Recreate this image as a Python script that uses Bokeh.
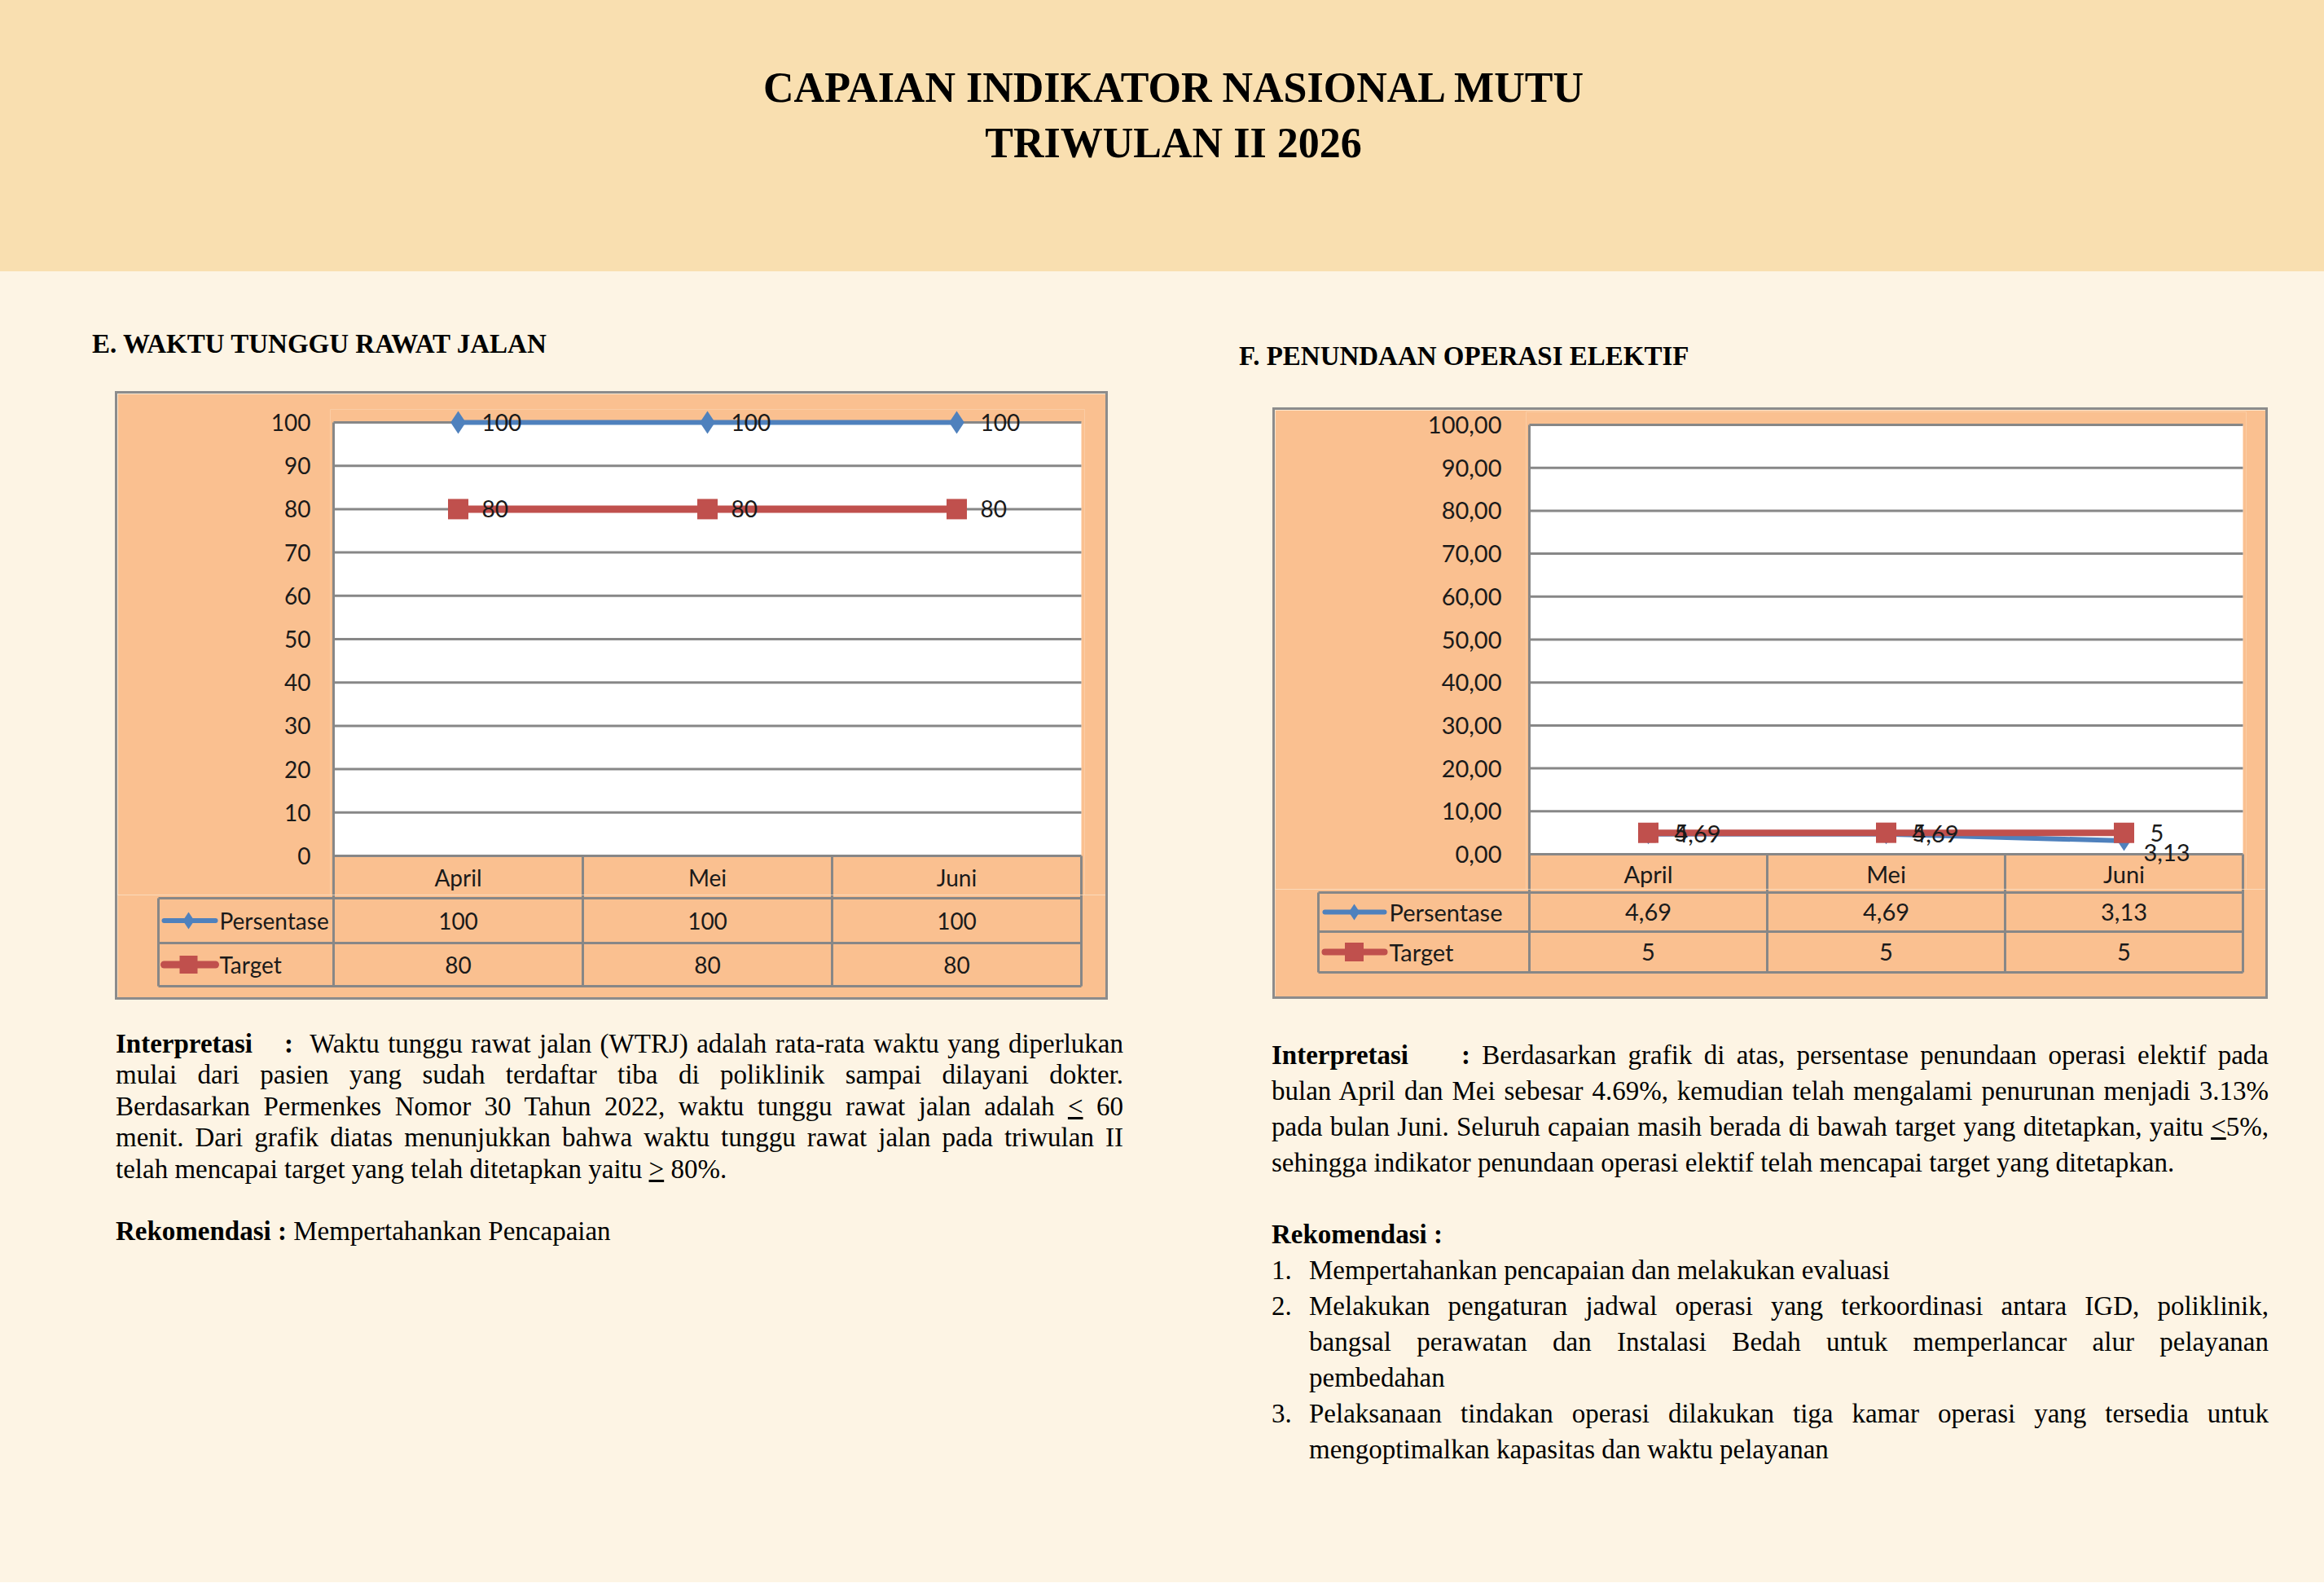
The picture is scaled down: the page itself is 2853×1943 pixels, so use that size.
import numpy as np
from bokeh.plotting import figure
from bokeh.models import Range1d, ColumnDataSource, LabelSet, Div, Spacer, FixedTicker
from bokeh.layouts import column, row
from bokeh.core.properties import value
from bokeh.embed import file_html
from bokeh.resources import INLINE

OFF = 0  # page margin (the template already removes the body margin)

# ---------------- data ----------------
months = ["April", "Mei", "Juni"]
series_names = ["Persentase", "Target"]
e_persentase = [100, 100, 100]
e_target = [80, 80, 80]
e_ticks = [0, 10, 20, 30, 40, 50, 60, 70, 80, 90, 100]
f_persentase = [4.69, 4.69, 3.13]
f_target = [5, 5, 5]
f_ticks = [0, 10, 20, 30, 40, 50, 60, 70, 80, 90, 100]

# label nudges (screen px) for chart F "Persentase" data labels
f_pers_dx = [32, 32, 24]
f_pers_dy = [0, 0, -14]

# ---------------- colours ----------------
HEADER_BG = "#F9DFB0"
BODY_BG = "#FDF4E4"
BOX_FILL = "#FAC090"
BOX_BORDER = "#8C8C8C"
GRID = "#878787"
BLUE = "#4F81BD"
RED = "#C0504D"
INK = "#1A1A1A"


def e_tick_fmt(v):
    return f"{v:d}"


def f_tick_fmt(v):
    return f"{v:.2f}".replace(".", ",")


def val_fmt(v):
    return f"{v:g}".replace(".", ",")


GE = dict(x0=141, x1=1360, y0=480, y1=1227, b=3, px0=409, px1=1327, pyt=518, py0=1050,
          rows=[1102, 1157, 1210], legx=194, key_x0=201, key_x1=264, key_mx=231, key_tx=269,
          lab_r=381, fs=28, lw_b=6, lw_r=9, dm=28, sq=25, kdm=21, ksq=22, lab_dx=29)
GF = dict(x0=1562, x1=2784, y0=500, y1=1226, b=3, px0=1877, px1=2753, pyt=521, py0=1048,
          rows=[1095, 1143, 1193], legx=1618, key_x0=1626, key_x1=1699, key_mx=1662, key_tx=1705,
          lab_r=1843, fs=29, lw_b=6, lw_r=8, dm=25, sq=25, kdm=20, ksq=23, lab_dx=32)


def strip(w, h, color):
    return Div(text="", width=int(w), height=int(h), margin=0, styles={"background-color": color})


def spacer(w, h):
    return Spacer(width=max(int(w), 1), height=max(int(h), 1), margin=0)


def make_chart(g, cats, pers, targ, ticks, tick_fmt, pers_dx=None, pers_dy=None):
    n = len(cats)
    B = g["b"]
    ix0, ix1 = g["x0"] + B, g["x1"] - B
    iy0, iy1 = g["y0"] + B, g["y1"] - B
    r0, r1, r2 = g["rows"]
    split = r0 - 4
    ymax = ticks[-1]
    ppu = (g["py0"] - g["pyt"]) / ymax
    colw = (g["px1"] - g["px0"]) / n
    el, er = 4, 4
    et = min(16, g["pyt"] - iy0)
    ystart = -(split - g["py0"]) / ppu
    fs = value(f"{g['fs']}px")

    top = figure(width=ix1 - ix0, height=split - iy0, title=None,
                 x_range=Range1d(-el / colw, n + er / colw),
                 y_range=Range1d(ystart, ymax + et / ppu),
                 min_border_left=g["px0"] - el - ix0, min_border_right=ix1 - g["px1"] - er,
                 min_border_top=g["pyt"] - et - iy0, min_border_bottom=0,
                 x_axis_location=None, toolbar_location=None, output_backend="svg",
                 background_fill_color=BOX_FILL, border_fill_color=BOX_FILL,
                 outline_line_color=None, margin=0, frame_align=False)
    top.grid.visible = False
    ax = top.yaxis[0]
    ax.ticker = FixedTicker(ticks=ticks)
    ax.major_label_overrides = {t: tick_fmt(t) for t in ticks}
    ax.axis_line_color = None
    ax.major_tick_line_color = None
    ax.minor_tick_line_color = None
    ax.major_tick_out = 0
    ax.major_tick_in = 0
    ax.minor_tick_out = 0
    ax.major_label_standoff = g["px0"] - el - g["lab_r"]
    ax.major_label_text_font = "Lato"
    ax.major_label_text_font_size = f"{g['fs']}px"
    ax.major_label_text_color = INK

    # plot area, gridlines and header-row cells
    top.quad(left=0, right=n, bottom=0, top=ymax, fill_color="white", line_color=None)
    top.segment(x0=[0] * len(ticks), y0=ticks, x1=[n] * len(ticks), y1=ticks,
                line_color=GRID, line_width=3)
    top.segment(x0=[0], y0=[ystart], x1=[0], y1=[ymax], line_color=GRID, line_width=3)
    bx = list(range(1, n + 1))
    top.segment(x0=bx, y0=[ystart] * n, x1=bx, y1=[0] * n, line_color=GRID, line_width=3)
    hdr_mid = -(r0 - g["py0"]) / 2 / ppu
    xs = np.arange(n) + 0.5
    top.text(x=xs, y=[hdr_mid] * n, text=cats, text_align="center", text_baseline="middle",
             text_font=value("Lato"), text_font_size=fs, text_color=INK)

    # series
    top.line(xs, pers, line_color=BLUE, line_width=g["lw_b"])
    top.scatter(xs, pers, marker="diamond", size=g["dm"], fill_color=BLUE, line_color=None)
    top.line(xs, targ, line_color=RED, line_width=g["lw_r"])
    top.scatter(xs, targ, marker="square", size=g["sq"], fill_color=RED, line_color=None)

    if pers_dx is None:
        pers_dx = [g["lab_dx"]] * n
    if pers_dy is None:
        pers_dy = [0] * n
    src_p = ColumnDataSource(dict(x=xs, y=pers, t=[val_fmt(v) for v in pers], dx=pers_dx, dy=pers_dy))
    src_t = ColumnDataSource(dict(x=xs, y=targ, t=[val_fmt(v) for v in targ],
                                  dx=[g["lab_dx"]] * n, dy=[0] * n))
    for src in (src_p, src_t):
        top.add_layout(LabelSet(x="x", y="y", text="t", x_offset="dx", y_offset="dy", source=src,
                                text_align="left", text_baseline="middle", text_font=value("Lato"),
                                text_font_size=fs, text_color=INK))

    # data table rows
    bot = figure(width=ix1 - ix0, height=iy1 - split, title=None,
                 x_range=Range1d(ix0, ix1), y_range=Range1d(iy1, split),
                 min_border_left=0, min_border_right=0, min_border_top=0, min_border_bottom=0,
                 x_axis_location=None, y_axis_location=None, toolbar_location=None,
                 output_backend="svg", background_fill_color=BOX_FILL, border_fill_color=BOX_FILL,
                 outline_line_color=None, margin=0, frame_align=False)
    bot.grid.visible = False
    colx = [g["px0"] + i * colw for i in range(n + 1)]
    hy = [r0, r1, r2]
    bot.segment(x0=[g["legx"]] * 3, y0=hy, x1=[g["px1"]] * 3, y1=hy, line_color=GRID, line_width=3)
    vx = [g["legx"]] + colx
    vy0 = [r0] + [split] * (n + 1)
    bot.segment(x0=vx, y0=vy0, x1=vx, y1=[r2] * len(vx), line_color=GRID, line_width=3)

    row_y = [(r0 + r1) / 2, (r1 + r2) / 2]
    specs = [(series_names[0], pers, BLUE, "diamond", g["kdm"], g["lw_b"]),
             (series_names[1], targ, RED, "square", g["ksq"], g["lw_r"])]
    for (name, vals, color, marker, msize, lw), y in zip(specs, row_y):
        bot.segment(x0=[g["key_x0"]], y0=[y], x1=[g["key_x1"]], y1=[y], line_color=color,
                    line_width=lw, line_cap="round")
        bot.scatter([g["key_mx"]], [y], marker=marker, size=msize, fill_color=color, line_color=None)
        bot.text(x=[g["key_tx"]], y=[y], text=[name], text_align="left", text_baseline="middle",
                 text_font=value("Lato"), text_font_size=fs, text_color=INK)
        bot.text(x=[c + colw / 2 for c in colx[:n]], y=[y] * n, text=[val_fmt(v) for v in vals],
                 text_align="center", text_baseline="middle", text_font=value("Lato"),
                 text_font_size=fs, text_color=INK)

    inner = column(top, bot, spacing=0, margin=0)
    w, h = ix1 - ix0, iy1 - iy0
    return column(strip(w + 2 * B, B, BOX_BORDER),
                  row(strip(B, h, BOX_BORDER), inner, strip(B, h, BOX_BORDER), spacing=0, margin=0),
                  strip(w + 2 * B, B, BOX_BORDER), spacing=0, margin=0)


SERIF = "font-family:'Liberation Serif','Times New Roman',serif;color:#000;"


def pline(inner, lh, justify=True, indent=0):
    last = "justify" if justify else "left"
    return (f'<div style="height:{lh}px;line-height:{lh}px;text-align:justify;'
            f'text-align-last:{last};padding-left:{indent}px;">{inner}</div>')


def item(num, inner, lh, justify=True, ind=46):
    last = "justify" if justify else "left"
    return (f'<div style="display:flex;height:{lh}px;line-height:{lh}px;">'
            f'<div style="width:{ind}px;flex:none;">{num}</div>'
            f'<div style="flex:1;text-align:justify;text-align-last:{last};">{inner}</div></div>')


W = 2853 - 2 * OFF
H_TOTAL = 1942 - 2 * OFF
title_html = (f'<div style="width:{W}px;box-sizing:border-box;padding-top:{74 - OFF}px;padding-left:28px;'
              f'text-align:center;{SERIF}font-weight:bold;font-size:52px;line-height:68px;">'
              'CAPAIAN INDIKATOR NASIONAL MUTU<br>TRIWULAN II 2026</div>')
header = Div(text=title_html, width=W, height=333 - OFF, margin=0,
             styles={"background-color": HEADER_BG})


def heading(txt):
    return Div(text=f'<div style="{SERIF}font-weight:bold;font-size:33px;line-height:40px;'
                    f'white-space:nowrap;">{txt}</div>', width=1000, height=40, margin=0)


LHE = 38.4
pe = "".join([
    pline('<span style="display:inline-block;width:207px;font-weight:bold;">Interpretasi</span>'
          '<b>:</b>&nbsp; Waktu tunggu rawat jalan (WTRJ) adalah rata-rata waktu yang diperlukan', LHE),
    pline('mulai dari pasien yang sudah terdaftar tiba di poliklinik sampai dilayani dokter.', LHE),
    pline('Berdasarkan Permenkes Nomor 30 Tahun 2022, waktu tunggu rawat jalan adalah <u>&lt;</u> 60', LHE),
    pline('menit. Dari grafik diatas menunjukkan bahwa waktu tunggu rawat jalan pada triwulan II', LHE),
    pline('telah mencapai target yang telah ditetapkan yaitu <u>&gt;</u> 80%.', LHE, False),
    pline('&nbsp;', LHE, False),
    pline('<b>Rekomendasi :</b> Mempertahankan Pencapaian', LHE, False),
])
para_e = Div(text=f'<div style="{SERIF}font-size:33px;width:1237px;">{pe}</div>',
             width=1237, height=280, margin=0)

LHF = 44
pf = "".join([
    pline('<span style="display:inline-block;width:233px;font-weight:bold;">Interpretasi</span>'
          '<b>:</b> Berdasarkan grafik di atas, persentase penundaan operasi elektif pada', LHF),
    pline('bulan April dan Mei sebesar 4.69%, kemudian telah mengalami penurunan menjadi 3.13%', LHF),
    pline('pada bulan Juni. Seluruh capaian masih berada di bawah target yang ditetapkan, yaitu <u>&lt;</u>5%,', LHF),
    pline('sehingga indikator penundaan operasi elektif telah mencapai target yang ditetapkan.', LHF, False),
    pline('&nbsp;', LHF, False),
    pline('<b>Rekomendasi :</b>', LHF, False),
    item('1.', 'Mempertahankan pencapaian dan melakukan evaluasi', LHF, False),
    item('2.', 'Melakukan pengaturan jadwal operasi yang terkoordinasi antara IGD, poliklinik,', LHF),
    pline('bangsal perawatan dan Instalasi Bedah untuk memperlancar alur pelayanan', LHF, True, 46),
    pline('pembedahan', LHF, False, 46),
    item('3.', 'Pelaksanaan tindakan operasi dilakukan tiga kamar operasi yang tersedia untuk', LHF),
    pline('mengoptimalkan kapasitas dan waktu pelayanan', LHF, False, 46),
])
para_f = Div(text=f'<div style="{SERIF}font-size:33px;width:1224px;">{pf}</div>',
             width=1224, height=540, margin=0)

chart_e = make_chart(GE, months, e_persentase, e_target, e_ticks, e_tick_fmt)
chart_f = make_chart(GF, months, f_persentase, f_target, f_ticks, f_tick_fmt, f_pers_dx, f_pers_dy)

XS = 1440
left_col = column(
    spacer(XS - OFF, 402 - 333),
    row(spacer(113 - OFF, 40), heading("E. WAKTU TUNGGU RAWAT JALAN"), spacing=0, margin=0),
    spacer(10, GE["y0"] - 442),
    row(spacer(GE["x0"] - OFF, 10), chart_e, spacing=0, margin=0),
    spacer(10, 1262 - GE["y1"]),
    row(spacer(142 - OFF, 10), para_e, spacing=0, margin=0),
    spacing=0, margin=0)

right_col = column(
    spacer(2853 - OFF - XS, 417 - 333),
    row(spacer(1521 - XS, 40), heading("F. PENUNDAAN OPERASI ELEKTIF"), spacing=0, margin=0),
    spacer(10, GF["y0"] - 457),
    row(spacer(GF["x0"] - XS, 10), chart_f, spacing=0, margin=0),
    spacer(10, 1273 - GF["y1"]),
    row(spacer(1561 - XS, 10), para_f, spacing=0, margin=0),
    spacer(10, (H_TOTAL + OFF) - (1273 + 540)),
    spacing=0, margin=0)

page = column(header, row(left_col, right_col, spacing=0, margin=0), spacing=0, margin=0,
              styles={"background-color": BODY_BG})

open("out.html", "w").write(file_html(page, INLINE))
